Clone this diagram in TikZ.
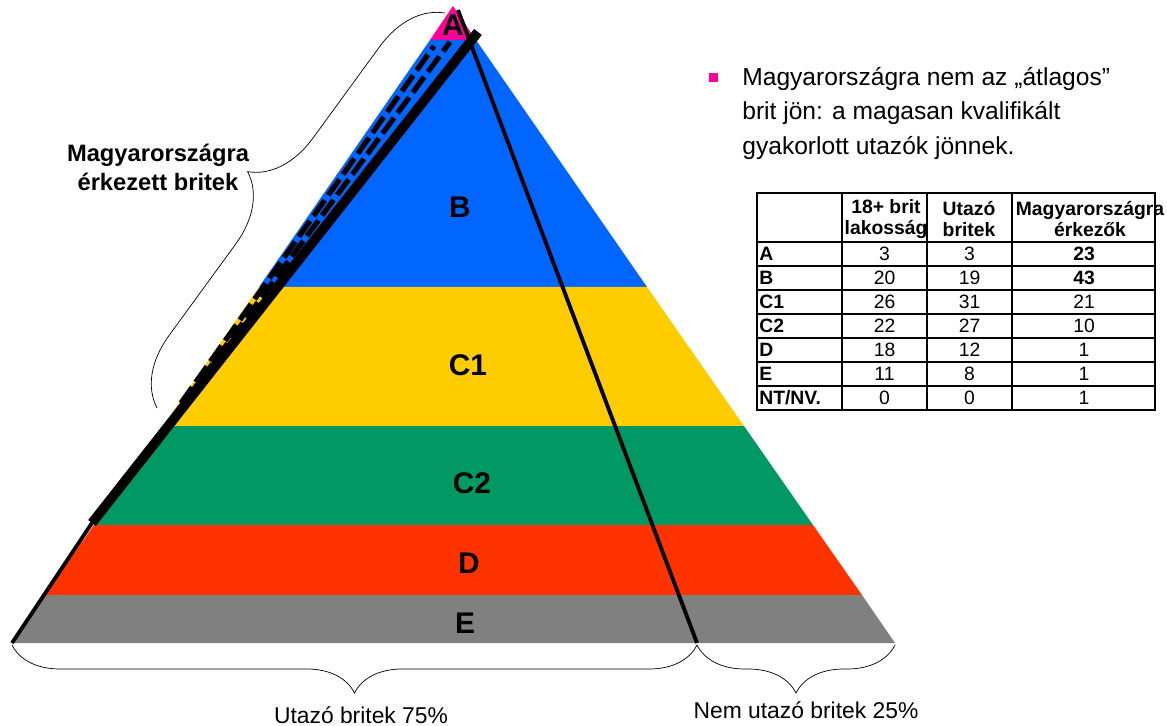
\documentclass[tikz,border=0pt]{standalone}
\usepackage{fontspec}
\setmainfont{Liberation Sans}
\usetikzlibrary{decorations.pathreplacing}
\definecolor{pyrA}{RGB}{255,0,153}
\definecolor{pyrB}{RGB}{0,102,255}
\definecolor{pyrCa}{RGB}{255,204,0}
\definecolor{pyrCb}{RGB}{0,153,102}
\definecolor{pyrD}{RGB}{255,51,0}
\definecolor{pyrE}{RGB}{128,128,128}
\begin{document}
\begin{tikzpicture}[x=0.02cm,y=-0.02cm,
  layer/.style={font=\fontsize{17}{19}\selectfont\bfseries},
  cell/.style={font=\fontsize{11}{12}\selectfont,inner sep=0pt},
  curly/.style={decorate,decoration={brace,amplitude=#1}},
  mcurly/.style={decorate,decoration={brace,mirror,amplitude=#1}}]
  \useasboundingbox (0,0) rectangle (1167,726);
  % Layers of the pyramid
  \fill[pyrA] (453,6) -- (476,40) -- (430,40) -- cycle;
  \fill[pyrB] (430,40) -- (476,40) -- (647,287) -- (259,287) -- cycle;
  \fill[pyrCa] (259,287) -- (647,287) -- (744,426) -- (163,426) -- cycle;
  \fill[pyrCb] (163,426) -- (744,426) -- (813,525) -- (94,525) -- cycle;
  \fill[pyrD] (94,525) -- (813,525) -- (862,595) -- (45,595) -- cycle;
  \fill[pyrE] (45,595) -- (862,595) -- (895,643) -- (12,643) -- cycle;
  % Travelling / not travelling split
  \draw[line width=2.2pt] (458,10) -- (697,643);
  \draw[line width=2.2pt] (12,643) -- (92,523);
  \draw[line width=5.5pt] (92,523) -- (478,32);
  % Arrivals in Hungary
  \draw[line width=3pt,dash pattern=on 11pt off 3.5pt] (181,403) -- (434,46);
  \draw[line width=3pt,dash pattern=on 11pt off 3.5pt] (186,400) -- (450,42);
  \node[layer] (lA) at (453,25) {A};
  \node[layer] (lB) at (460,207) {B};
  \node[layer] (lCa) at (468,365) {C1};
  \node[layer] (lCb) at (472,483) {C2};
  \node[layer] (lD) at (469,563) {D};
  \node[layer] (lE) at (465,623) {E};
  % Braces
  \coordinate (bl) at (12,645);
  \coordinate (split) at (697,645);
  \coordinate (br) at (895,645);
  \coordinate (sliverlow) at (157,408);
  \coordinate (sliverhigh) at (445,13);
  \draw[mcurly=0.96cm] (bl) -- (split);
  \draw[mcurly=0.96cm] (split) -- (br);
  \draw[curly=1.32cm] (sliverlow) -- (sliverhigh);
  \node[font=\fontsize{13}{15}\selectfont] (trav) at (361,715) {Utazó britek 75\%};
  \node[font=\fontsize{13}{15}\selectfont] (nontrav) at (806,710) {Nem utazó britek 25\%};
  \node[align=center,font=\fontsize{13.5}{16.5}\selectfont\bfseries] (arrived) at (158,167)
    {Magyarországra\\érkezett britek};
  % Bullet note
  \fill[pyrA] (708.5,73.5) rectangle (717.5,82.5);
  \node[anchor=north west,align=left,inner sep=0pt,font=\fontsize{14}{19.6}\selectfont] (note) at (742,67)
    {Magyarországra nem az „átlagos”\\brit jön: a magasan kvalifikált\\gyakorlott utazók jönnek.};
  % Table
  \draw[line width=1.1pt] (757,193) rectangle (1155,410);
  \foreach \y in {242,266,290,314,338,362,386}
    \draw[line width=1.1pt] (757,\y) -- (1155,\y);
  \foreach \x in {842,927,1012}
    \draw[line width=1.1pt] (\x,193) -- (\x,410);
  \node[cell,align=center,font=\fontsize{11}{12}\selectfont\bfseries] (h1) at (886,219) {18+ brit\\lakosság};
  \node[cell,align=center,font=\fontsize{11}{12}\selectfont\bfseries] (h2) at (969,219) {Utazó\\britek};
  \node[cell,align=center,font=\fontsize{11}{12}\selectfont\bfseries] (h3) at (1090,219) {Magyarországra\\érkezők};
  \foreach \r/\a/\b/\c [count=\i] in {A/3/3/\textbf{23},B/20/19/\textbf{43},C1/26/31/21,C2/22/27/10,D/18/12/1,E/11/8/1,{NT/NV.}/0/0/1}{
    \pgfmathsetmacro\yy{230+24*\i}
    \node[cell,anchor=west] (r\i) at (759,\yy) {\bfseries\r};
    \node[cell] (p\i) at (884.5,\yy) {\a};
    \node[cell] (u\i) at (969.5,\yy) {\b};
    \node[cell] (m\i) at (1084,\yy) {\c};
  }
\end{tikzpicture}
\end{document}
